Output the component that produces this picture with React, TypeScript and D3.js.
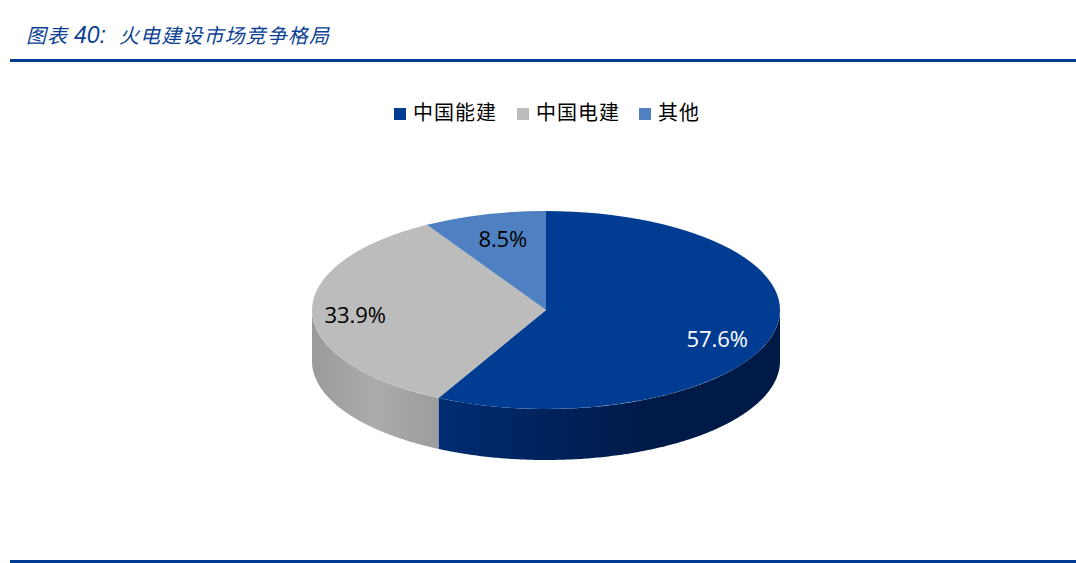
import * as d3 from 'd3'

const categories = ['中国能建', '中国电建', '其他']
const shares = [57.6, 33.9, 8.5]
const labels = ['57.6%', '33.9%', '8.5%']
const topColors = ['#003d92', '#bcbcbc', '#4f81c2']
const labelColors = ['#ffffff', '#000000', '#000000']

const width = 1076
const height = 563
const cx = 546
const cy = 310
const rx = 234
const ry = 99
const depth = 51
const blue = '#003d92'
const cjk = "'Noto Sans CJK SC', sans-serif"

// angle 0 is 12 o'clock, going clockwise; y is squashed for the tilted look
const pie = d3.pie<number>().sort(null).value((d) => d)
const slices = pie(shares)
const tau = Math.PI * 2
const px = (a: number, r = 1) => cx + rx * r * Math.sin(a)
const py = (a: number, r = 1) => cy - ry * r * Math.cos(a)

const topArc = d3.arc<d3.PieArcDatum<number>>().innerRadius(0).outerRadius(rx)

function sidePath(startAngle: number, endAngle: number) {
  // only the front half of the rim can be seen
  const a0 = Math.max(startAngle, tau / 4)
  const a1 = Math.min(endAngle, (tau * 3) / 4)
  if (a1 <= a0) return null
  const angles = d3.range(a0, a1, 0.01).concat(a1)
  const upper = angles.map((a) => [px(a), py(a)] as [number, number])
  const lower = angles
    .slice()
    .reverse()
    .map((a) => [px(a), py(a) + depth] as [number, number])
  return d3.line()([...upper, ...lower]) + 'Z'
}

export default function App() {
  return (
    <svg
      width={width}
      height={height}
      viewBox={`0 0 ${width} ${height}`}
      style={{ position: 'absolute', left: 0, top: 0, background: '#fff' }}
    >
      <defs>
        <linearGradient id="side-0" gradientUnits="userSpaceOnUse" x1={cx - rx} x2={cx + rx} y1={0} y2={0}>
          <stop offset="0.27" stopColor="#002c72" />
          <stop offset="0.5" stopColor="#00235c" />
          <stop offset="0.72" stopColor="#001a48" />
          <stop offset="1" stopColor="#001a48" />
        </linearGradient>
        <linearGradient id="side-1" gradientUnits="userSpaceOnUse" x1={cx - rx} x2={cx - rx + 126} y1={0} y2={0}>
          <stop offset="0" stopColor="#9a9a9a" />
          <stop offset="0.5" stopColor="#acacac" />
          <stop offset="1" stopColor="#9c9c9c" />
        </linearGradient>
      </defs>

      <text y={43} fontFamily={cjk} fontStyle="italic" fontSize={20} fill="#0b3f94">
        <tspan x={26} letterSpacing={1}>图表</tspan>
        <tspan x={74} fontFamily="'Liberation Sans', sans-serif" fontSize={23}>40:</tspan>
        <tspan x={119} letterSpacing={1.1}>火电建设市场竞争格局</tspan>
      </text>
      <rect x={10} y={59} width={1066} height={3} fill={blue} />
      <rect x={10} y={560} width={1066} height={3} fill={blue} />

      {/* legend */}
      {categories.map((c, i) => {
        const lx = [394, 517, 639][i]
        return (
          <g key={c}>
            <rect x={lx} y={108} width={12} height={12} fill={topColors[i]} />
            <text x={lx + 19} y={120} fontFamily={cjk} fontSize={20} letterSpacing={1} fill="#000">
              {c}
            </text>
          </g>
        )
      })}

      {/* rim first, then the top surface over it */}
      {slices.map((s, i) => {
        const d = sidePath(s.startAngle, s.endAngle)
        return d ? <path key={i} d={d} fill={`url(#side-${i})`} /> : null
      })}
      <g transform={`translate(${cx},${cy}) scale(1,${ry / rx})`}>
        {slices.map((s, i) => (
          <path key={i} d={topArc(s) ?? ''} fill={topColors[i]} />
        ))}
      </g>

      {slices.map((s, i) => {
        const mid = (s.startAngle + s.endAngle) / 2
        const r = [0.753, 0.816, 0.7][i]
        const dy = [19, 11, 4][i]
        return (
          <text
            key={i}
            x={px(mid, r)}
            y={py(mid, r) + dy}
            textAnchor="middle"
            fontFamily="'Open Sans', sans-serif"
            fontSize={22}
            letterSpacing={-0.1}
            fill={labelColors[i]}
          >
            {labels[i]}
          </text>
        )
      })}
    </svg>
  )
}
